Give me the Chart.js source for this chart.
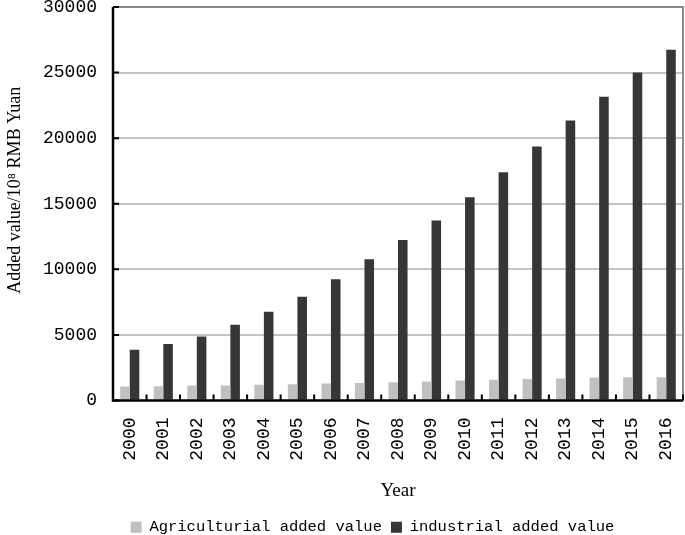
<!DOCTYPE html>
<html>
<head>
<meta charset="utf-8">
<script src="https://cdn.jsdelivr.net/npm/chart.js@4"></script>
<style>
	html, body { margin: 0; padding: 0; background: #fff; }
	#wrap { width: 685px; height: 535px; }
</style>
</head>
<body>
<div id="wrap"><canvas id="value_chart" width="685" height="535"></canvas></div>
<script>
var years = ['2000', '2001', '2002', '2003', '2004', '2005', '2006', '2007', '2008',
		'2009', '2010', '2011', '2012', '2013', '2014', '2015', '2016'],
	agriValues = [1070, 1090, 1145, 1145, 1195, 1245, 1300, 1325, 1400,
		1450, 1525, 1580, 1630, 1680, 1755, 1780, 1780],
	industryValues = [3870, 4300, 4885, 5775, 6770, 7915, 9235, 10765, 12240,
		13715, 15495, 17405, 19365, 21350, 23155, 25015, 26745],
	yTicks = [0, 5000, 10000, 15000, 20000, 25000, 30000],
	seriesNames = ['Agriculturial added value', 'industrial added value'],
	colors = ['#c0c0c0', '#363636'];

// frame + inward tick marks, like the original figure
var framePlugin = {
	id: 'frame',
	afterLayout: function(chart) {
		// legend sits a bit right of centre and low in the original
		chart.legend.left += 31;
		chart.legend.right += 31;
		chart.legend.top += 10;
		chart.legend.bottom += 10;
	},
	afterDatasetsDraw: function(chart) {
		const { ctx, chartArea: a, scales } = chart;
		const x = scales.x, y = scales.y;
		ctx.save();
		ctx.lineCap = 'butt';

		// top and right in grey
		ctx.strokeStyle = '#8a8a8a';
		ctx.lineWidth = 2;
		ctx.beginPath();
		ctx.moveTo(a.left, a.top);
		ctx.lineTo(a.right, a.top);
		ctx.lineTo(a.right, a.bottom);
		ctx.stroke();

		// left and bottom axes in black
		ctx.strokeStyle = '#000';
		ctx.lineWidth = 2.5;
		ctx.beginPath();
		ctx.moveTo(a.left, a.top);
		ctx.lineTo(a.left, a.bottom);
		ctx.lineTo(a.right, a.bottom);
		ctx.stroke();

		ctx.lineWidth = 2;
		ctx.beginPath();
		y.ticks.forEach(function(t, i) {
			const py = y.getPixelForTick(i);
			ctx.moveTo(a.left, py);
			ctx.lineTo(a.left + 6, py);
		});
		const half = (x.getPixelForValue(1) - x.getPixelForValue(0)) / 2;
		for (let i = 0; i < years.length; ++i) {
			const px = x.getPixelForValue(i) + half;
			ctx.moveTo(px, a.bottom);
			ctx.lineTo(px, a.bottom - 6);
		}
		ctx.stroke();
		ctx.restore();
	}
};

var config = {
	type: 'bar',
	data: {
		labels: years,
		datasets: [{
			label: seriesNames[0],
			data: agriValues,
			backgroundColor: colors[0],
			categoryPercentage: 0.57,
			barPercentage: 1.0
		}, {
			label: seriesNames[1],
			data: industryValues,
			backgroundColor: colors[1],
			categoryPercentage: 0.57,
			barPercentage: 1.0
		}]
	},
	options: {
		responsive: false,
		animation: false,
		layout: { padding: { top: 7, right: 2, left: 0, bottom: 0 } },
		scales: {
			x: {
				grid: { display: false, drawTicks: false },
				border: { display: false },
				ticks: {
					minRotation: 90,
					maxRotation: 90,
					padding: 17,
					color: '#000',
					font: { family: 'Liberation Mono', size: 18 }
				},
				title: {
					display: true,
					text: 'Year',
					color: '#000',
					padding: { top: 14, bottom: -2 },
					font: { family: 'Liberation Serif', size: 19 }
				},
				afterFit: function(scale) {
					scale.height = 100;
					scale.paddingLeft = 0;
					scale.paddingRight = 0;
				}
			},
			y: {
				min: 0,
				max: 30000,
				afterBuildTicks: function(scale) {
					scale.ticks = yTicks.map(function(v) { return { value: v }; });
				},
				grid: {
					color: function(c) {
						return (c.tick.value === 0 || c.tick.value === 30000) ? 'rgba(0,0,0,0)' : '#c4c4c4';
					},
					lineWidth: 2,
					drawTicks: false
				},
				border: { display: false },
				ticks: {
					padding: 16,
					color: '#000',
					font: { family: 'Liberation Mono', size: 18 },
					callback: function(v) { return String(v); }
				},
				title: {
					display: true,
					text: '\u2002\u2002\u2002Added value/10\u2078 RMB Yuan',
					color: '#000',
					padding: { top: 4, bottom: 0 },
					font: { family: 'Liberation Serif', size: 18 }
				},
				afterFit: function(scale) {
					scale.width = 113;
					scale.paddingTop = 0;
					scale.paddingBottom = 0;
				}
			}
		},
		plugins: {
			legend: {
				display: true,
				position: 'bottom',
				labels: {
					boxWidth: 11,
					boxHeight: 11,
					padding: 9,
					color: '#000',
					font: { family: 'Liberation Mono', size: 15.5 }
				}
			},
			tooltip: { enabled: false }
		}
	},
	plugins: [framePlugin]
};

new Chart(document.getElementById('value_chart').getContext('2d'), config);
</script>
</body>
</html>
